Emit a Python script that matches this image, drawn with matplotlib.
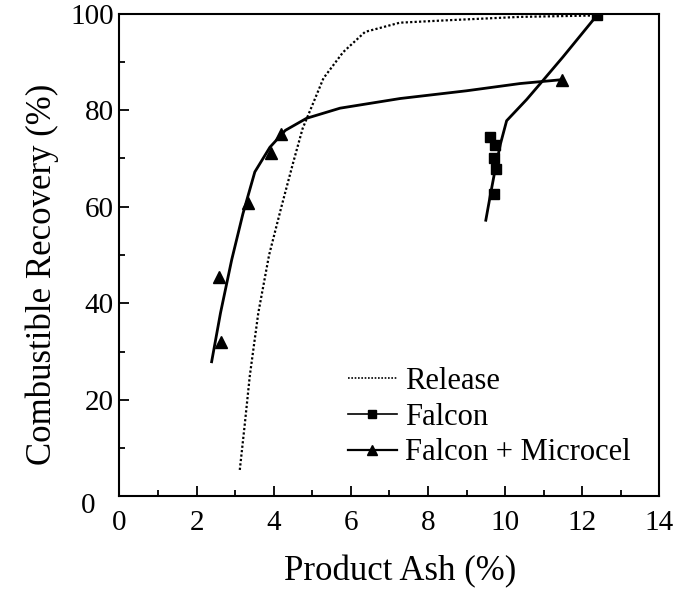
import matplotlib
matplotlib.use("Agg")
import matplotlib.pyplot as plt
from matplotlib.lines import Line2D
from matplotlib.ticker import MultipleLocator, FuncFormatter

plt.rcParams['font.family'] = ['Liberation Serif', 'DejaVu Serif']

# Release curve (dotted)
release_x = [3.12, 3.25, 3.38, 3.6, 3.88, 4.2, 4.5, 4.75, 5.0, 5.29, 5.8, 6.37, 7.27, 8.5, 10.39, 12.38]
release_y = [5.5, 15, 25, 38, 50, 60, 69, 76.2, 81, 86.6, 92, 96.2, 98.1, 98.6, 99.3, 99.6]

# Falcon data points and fitted curve
falcon_x = [9.61, 9.74, 9.71, 9.76, 9.72, 12.38]
falcon_y = [74.5, 72.8, 70.0, 67.8, 62.6, 99.6]
falcon_fit_x = [9.5, 9.62, 9.75, 9.88, 10.04, 10.56, 11.0, 11.5, 12.38]
falcon_fit_y = [57.2, 62.5, 68, 73, 77.8, 82.2, 86.3, 91, 99.6]

# Falcon + Microcel data points and fitted curve
fm_x = [2.59, 2.62, 3.34, 3.92, 4.19, 11.47]
fm_y = [45.4, 31.9, 60.8, 71.2, 75.0, 86.3]
fm_fit_x = [2.39, 2.62, 2.91, 3.2, 3.51, 3.9, 4.3, 4.85, 5.72, 7.28, 9.0, 10.39, 11.47]
fm_fit_y = [27.9, 38, 49, 58.5, 67.2, 72.3, 75.8, 78.3, 80.4, 82.4, 84.0, 85.5, 86.3]

labels = ["Release", "Falcon", "Falcon + Microcel"]

fig = plt.figure(figsize=(6.8, 5.9), dpi=100)
ax = fig.add_axes([0.1757, 0.1585, 0.7939, 0.8186])

ax.plot(release_x, release_y, linestyle=(0, (1, 1)), color='black', lw=1.6)
ax.plot(falcon_fit_x, falcon_fit_y, '-', color='black', lw=2)
ax.plot(falcon_x, falcon_y, 's', color='black', ms=7, linestyle='none')
ax.plot(fm_fit_x, fm_fit_y, '-', color='black', lw=2)
ax.plot(fm_x, fm_y, '^', color='black', ms=9, linestyle='none')

ax.set_xlim(0, 14)
ax.set_ylim(0, 100)
ax.xaxis.set_major_locator(MultipleLocator(2))
ax.xaxis.set_minor_locator(MultipleLocator(1))
ax.yaxis.set_major_locator(MultipleLocator(20))
ax.yaxis.set_minor_locator(MultipleLocator(10))
ax.yaxis.set_major_formatter(FuncFormatter(lambda v, p: '' if abs(v) < 1e-9 else f"{v:g}"))
ax.tick_params(which='both', direction='in', top=False, right=False, labelsize=21, width=1.3)
ax.tick_params(which='major', length=7)
ax.tick_params(which='minor', length=4)
ax.tick_params(axis='x', which='major', pad=10)
ax.tick_params(axis='y', which='major', pad=4)
for s in ax.spines.values():
    s.set_linewidth(1.5)

# y-axis "0" label sits slightly below and left of the axis corner in the original
ax.annotate("0", xy=(0, 0), xycoords='data', xytext=(-17, -7), textcoords='offset points',
            ha='right', va='center', fontsize=21, annotation_clip=False)

ax.set_xlabel("Product Ash (%)", fontsize=25)
ax.xaxis.label.set_va('baseline')
ax.xaxis.set_label_coords(0.52, -0.174)
ax.set_ylabel("Combustible Recovery (%)", fontsize=25)
ax.yaxis.set_label_coords(-0.112, 0.46)

handles = [
    Line2D([], [], color='black', linestyle=(0, (1, 1)), lw=1.2),
    Line2D([], [], color='black', lw=1.2, marker='s', ms=6),
    Line2D([], [], color='black', lw=1.6, marker='^', ms=7),
]
ax.legend(handles, labels, loc='upper left', bbox_to_anchor=(348 / 680, 1 - 367 / 590),
          bbox_transform=fig.transFigure, frameon=False, fontsize=22,
          handlelength=1.6, handletextpad=0.28, labelspacing=0.22, borderpad=0, borderaxespad=0)

fig.savefig("out.png", dpi=100)
